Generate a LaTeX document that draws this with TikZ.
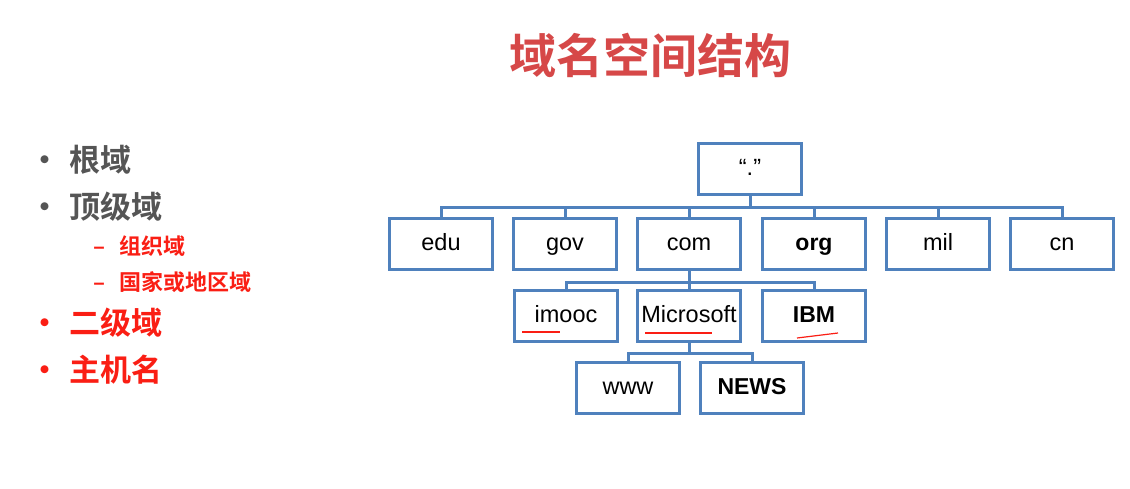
\documentclass[tikz,border=0pt]{standalone}
\usepackage{fontspec}
\setmainfont{Liberation Sans}
\newfontfamily\cjk{Noto Sans CJK SC}[BoldFont={Noto Sans CJK SC Bold}]
\usetikzlibrary{positioning}
\definecolor{boxblue}{RGB}{79,129,189}
\definecolor{titlered}{RGB}{214,72,72}
\definecolor{itemgrey}{RGB}{85,85,85}
\definecolor{itemred}{RGB}{250,30,20}
\tikzstyle{dnsbox} = [rectangle, draw=boxblue, line width=3pt, fill=white, minimum width=103pt, minimum height=51pt, text height=17pt, text depth=5pt, inner sep=0pt, text centered, font=\fontsize{23.5}{27}\selectfont]
\tikzstyle{boldbox} = [dnsbox, font=\bfseries\fontsize{23}{27}\selectfont]
\tikzstyle{link} = [draw=boxblue, line width=3pt]
\tikzstyle{redline} = [draw=itemred, line width=1.2pt]
\tikzstyle{listitem} = [anchor=west, font=\cjk\bfseries\fontsize{31}{36}\selectfont]
\tikzstyle{sublistitem} = [anchor=west, font=\cjk\bfseries\fontsize{22}{26}\selectfont, text=itemred]
\begin{document}
\begin{tikzpicture}[x=1pt, y=-1pt]
            \useasboundingbox [fill=white] (0,0) rectangle (1130,488);
            \node [font=\cjk\bfseries\fontsize{47}{52}\selectfont, text=titlered] at (650,55) (title) {域名空间结构};

            % list on the left
            \node [listitem, text=itemgrey] at (26,160) (root-b) {\textbullet\hspace{9pt}根域};
            \node [listitem, text=itemgrey] at (26,207) (tld-b) {\textbullet\hspace{9pt}顶级域};
            \node [sublistitem] at (90,246) (org-b) {–\hspace{14pt}组织域};
            \node [sublistitem] at (90,282) (cc-b) {–\hspace{14pt}国家或地区域};
            \node [listitem, text=itemred] at (26,323) (sld-b) {\textbullet\hspace{9pt}二级域};
            \node [listitem, text=itemred] at (26,370) (host-b) {\textbullet\hspace{9pt}主机名};

            % tree
            \node [dnsbox] at (750,169) (root) {“.”};
            \node [dnsbox] at (441,244) (edu) {edu};
            \node [dnsbox] at (565,244) (gov) {gov};
            \node [dnsbox] at (689,244) (com) {com};
            \node [boldbox] at (814,244) (org) {org};
            \node [dnsbox] at (938,244) (mil) {mil};
            \node [dnsbox] at (1062,244) (cn) {cn};
            \node [dnsbox] at (566,316) (imooc) {imooc};
            \node [dnsbox] at (689,316) (microsoft) {Microsoft};
            \node [boldbox] at (814,316) (ibm) {IBM};
            \node [dnsbox] at (628,388) (www) {www};
            \node [boldbox] at (752,388) (news) {NEWS};

            \draw [link] (root.south) -- ++(0,11) -| (edu.north);
            \draw [link] (root.south) -- ++(0,11) -| (gov.north);
            \draw [link] (root.south) -- ++(0,11) -| (com.north);
            \draw [link] (root.south) -- ++(0,11) -| (org.north);
            \draw [link] (root.south) -- ++(0,11) -| (mil.north);
            \draw [link] (root.south) -- ++(0,11) -| (cn.north);
            \draw [link] (com.south) -- ++(0,11) -| (imooc.north);
            \draw [link] (com.south) -- ++(0,11) -| (microsoft.north);
            \draw [link] (com.south) -- ++(0,11) -| (ibm.north);
            \draw [link] (microsoft.south) -- ++(0,10) -| (www.north);
            \draw [link] (microsoft.south) -- ++(0,10) -| (news.north);

            % red underlines
            \draw [redline] ([xshift=-44pt,yshift=-16pt]imooc.center) -- ([xshift=-6pt,yshift=-16pt]imooc.center);
            \draw [redline] ([xshift=-44pt,yshift=-17pt]microsoft.center) -- ([xshift=23pt,yshift=-17pt]microsoft.center);
            \draw [redline] ([xshift=-17pt,yshift=-22pt]ibm.center) -- ([xshift=24pt,yshift=-17pt]ibm.center);
\end{tikzpicture}
\end{document}
